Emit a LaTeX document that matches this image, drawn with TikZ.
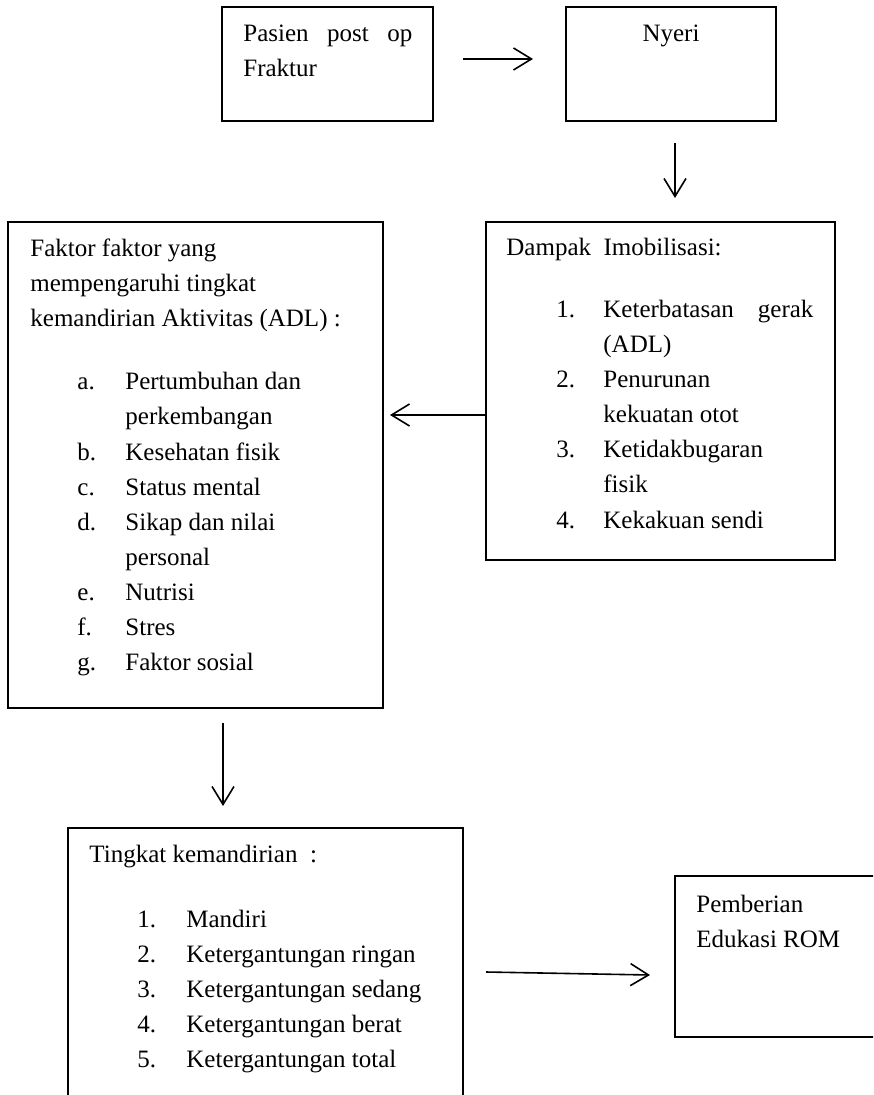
\documentclass[tikz,border=0pt]{standalone}
\usepackage{fontspec}
\setmainfont{Liberation Serif}
\usetikzlibrary{arrows.meta,fit}
\begin{document}
\begin{tikzpicture}[x=0.5pt,y=-0.5pt,
  box/.style={draw,line width=0.8pt,inner sep=0pt},
  txt/.style={anchor=base west,inner sep=0pt,font=\fontsize{12.5pt}{17.5pt}\selectfont},
  ctxt/.style={anchor=base,inner sep=0pt,font=\fontsize{12.5pt}{17.5pt}\selectfont},
  conn/.style={line width=0.8pt,-{Straight Barb[length=9pt,width=11pt,line width=0.8pt]}}]
\clip (0,0) rectangle (873,1095);
\fill[white] (0,0) rectangle (873,1095);
% boxes
\node[box,fit={(222,7) (433,121)}] (b1) {};
\node[box,fit={(566,7) (776,121)}] (b2) {};
\node[box,fit={(8,222) (383,708)}] (b3) {};
\node[box,fit={(486,222) (835,560)}] (b4) {};
\node[box,fit={(68,828) (463,1120)}] (b5) {};
\node[box,fit={(675,876) (900,1037)}] (b6) {};
% box 1
\node[txt] (t1a) at (243,42) {\makebox[84.5pt][s]{Pasien post op}};
\node[txt] (t1b) at (243,77) {Fraktur};
% box 2
\node[ctxt] (t2) at (671,42) {Nyeri};
% box 3
\node[txt] (t3a) at (30,257) {Faktor faktor yang};
\node[txt] (t3b) at (30,292) {mempengaruhi tingkat};
\node[txt] (t3c) at (30,327) {kemandirian Aktivitas (ADL) :};
\node[txt] (l3a) at (77,390) {a.};
\node[txt] (i3a) at (125,390) {Pertumbuhan dan};
\node[txt] (i3a2) at (125,425) {perkembangan};
\node[txt] (l3b) at (77,460) {b.};
\node[txt] (i3b) at (125,460) {Kesehatan fisik};
\node[txt] (l3c) at (77,495) {c.};
\node[txt] (i3c) at (125,495) {Status mental};
\node[txt] (l3d) at (77,530) {d.};
\node[txt] (i3d) at (125,530) {Sikap dan nilai};
\node[txt] (i3d2) at (125,565) {personal};
\node[txt] (l3e) at (77,600) {e.};
\node[txt] (i3e) at (125,600) {Nutrisi};
\node[txt] (l3f) at (77,635) {f.};
\node[txt] (i3f) at (125,635) {Stres};
\node[txt] (l3g) at (77,670) {g.};
\node[txt] (i3g) at (125,670) {Faktor sosial};
% box 4
\node[txt] (t4) at (506,256) {Dampak\ \ Imobilisasi:};
\node[txt] (l41) at (556,318) {1.};
\node[txt] (i41) at (603,318) {\makebox[105pt][s]{Keterbatasan gerak}};
\node[txt] (i41b) at (603,353) {(ADL)};
\node[txt] (l42) at (556,388) {2.};
\node[txt] (i42) at (603,388) {Penurunan};
\node[txt] (i42b) at (603,423) {kekuatan otot};
\node[txt] (l43) at (556,458) {3.};
\node[txt] (i43) at (603,458) {Ketidakbugaran};
\node[txt] (i43b) at (603,493) {fisik};
\node[txt] (l44) at (556,528) {4.};
\node[txt] (i44) at (603,528) {Kekakuan sendi};
% box 5
\node[txt] (t5) at (89,862) {Tingkat kemandirian\ \ :};
\node[txt] (l51) at (137,927) {1.};
\node[txt] (i51) at (186,927) {Mandiri};
\node[txt] (l52) at (137,962) {2.};
\node[txt] (i52) at (186,962) {Ketergantungan ringan};
\node[txt] (l53) at (137,997) {3.};
\node[txt] (i53) at (186,997) {Ketergantungan sedang};
\node[txt] (l54) at (137,1032) {4.};
\node[txt] (i54) at (186,1032) {Ketergantungan berat};
\node[txt] (l55) at (137,1067) {5.};
\node[txt] (i55) at (186,1067) {Ketergantungan total};
% box 6
\node[txt] (t6a) at (696,912) {Pemberian};
\node[txt] (t6b) at (696,947) {Edukasi ROM};
% arrows
\coordinate (a1s) at (463,59);
\coordinate (a1e) at (533,59);
\coordinate (a2s) at (675,143);
\coordinate (a2e) at (675,198);
\coordinate (a3s) at (486,415);
\coordinate (a3e) at (390,415);
\coordinate (a4s) at (223,723);
\coordinate (a4e) at (223,806);
\coordinate (a5s) at (486,972);
\coordinate (a5e) at (650,975);
\draw[conn] (a1s) -- (a1e);
\draw[conn] (a2s) -- (a2e);
\draw[conn] (a3s) -- (a3e);
\draw[conn] (a4s) -- (a4e);
\draw[conn] (a5s) -- (a5e);
\end{tikzpicture}
\end{document}
